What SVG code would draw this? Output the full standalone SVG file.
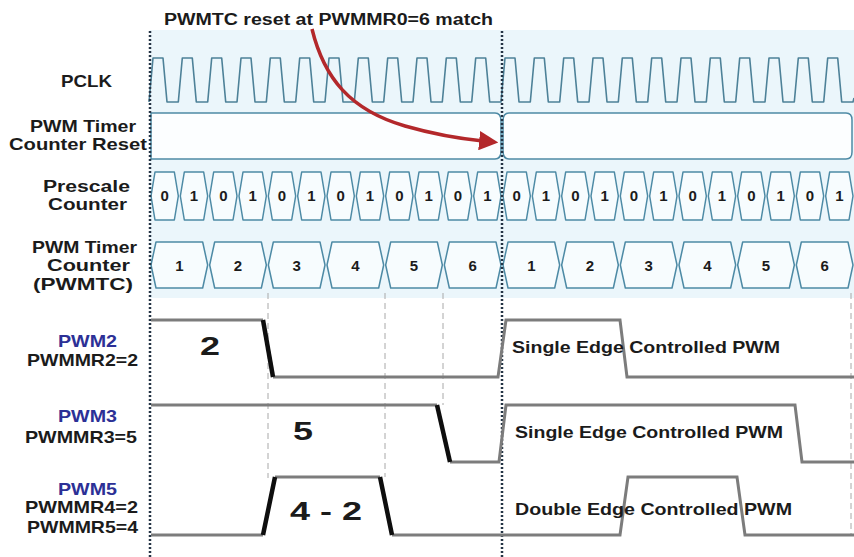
<svg xmlns="http://www.w3.org/2000/svg" width="854" height="557" viewBox="0 0 854 557">
<style>
.t{font-family:"Liberation Sans",Arial,sans-serif;font-weight:bold;fill:#1b1b1b}
.lb{font-size:17px}
.sm{font-size:16px}
.bl{fill:#2c3096}
.dg{font-size:15px;text-anchor:middle}
.big{font-size:26px}
.cell{fill:#f7fcfe;stroke:#4d8aa5;stroke-width:1.5;stroke-linejoin:round}
.clk{fill:none;stroke:#4d8198;stroke-width:1.6;stroke-linejoin:round}
.wave{fill:none;stroke:#7c7c7c;stroke-width:3}
.edge{fill:none;stroke:#0e0e0e;stroke-width:4.5}
.dash{stroke:#a8a8a8;stroke-width:1;stroke-dasharray:6,4;fill:none}
.dot{stroke:#243445;stroke-width:2.5;stroke-dasharray:2,2;fill:none}
</style>
<defs>
<polygon id="pc" class="cell" points="1,24 5,0 24.33,0 28.33,24 24.33,48 5,48"/>
<polygon id="tc" class="cell" points="1,23 6,0 52.67,0 57.67,23 52.67,46 6,46"/>
<marker id="ah" viewBox="0 0 10 10" refX="2" refY="5" markerWidth="5.5" markerHeight="5.5" orient="auto" markerUnits="strokeWidth">
<path d="M0,0 L10,5 L0,10 z" fill="#b3282b"/>
</marker>
</defs>
<rect x="0" y="0" width="854" height="557" fill="#ffffff"/>
<rect x="150" y="30" width="704" height="268" fill="#ebf6fb"/>

<text class="t" x="164" y="25" font-size="16" textLength="329" lengthAdjust="spacingAndGlyphs">PWMTC reset at PWMMR0=6 match</text>

<g id="pclk">
<text class="t lb" x="61" y="87" textLength="51" lengthAdjust="spacingAndGlyphs">PCLK</text>
<path class="clk" d="M149,102 L153,58 L163,58 L167,102 L178.3,102 L182.3,58 L192.3,58 L196.3,102 L207.7,102 L211.7,58 L221.7,58 L225.7,102 L237,102 L241,58 L251,58 L255,102 L266.3,102 L270.3,58 L280.3,58 L284.3,102 L295.7,102 L299.7,58 L309.7,58 L313.7,102 L325,102 L329,58 L339,58 L343,102 L354.3,102 L358.3,58 L368.3,58 L372.3,102 L383.7,102 L387.7,58 L397.7,58 L401.7,102 L413,102 L417,58 L427,58 L431,102 L442.3,102 L446.3,58 L456.3,58 L460.3,102 L471.7,102 L475.7,58 L485.7,58 L489.7,102 L501,102 L505,58 L515,58 L519,102 L530.3,102 L534.3,58 L544.3,58 L548.3,102 L559.7,102 L563.7,58 L573.7,58 L577.7,102 L589,102 L593,58 L603,58 L607,102 L618.3,102 L622.3,58 L632.3,58 L636.3,102 L647.7,102 L651.7,58 L661.7,58 L665.7,102 L677,102 L681,58 L691,58 L695,102 L706.3,102 L710.3,58 L720.3,58 L724.3,102 L735.7,102 L739.7,58 L749.7,58 L753.7,102 L765,102 L769,58 L779,58 L783,102 L794.3,102 L798.3,58 L808.3,58 L812.3,102 L823.7,102 L827.7,58 L837.7,58 L841.7,102 L853,102 L854,98"/>
</g>

<g id="reset">
<text class="t lb" x="30" y="132" textLength="106" lengthAdjust="spacingAndGlyphs">PWM Timer</text>
<text class="t lb" x="9" y="150" textLength="138" lengthAdjust="spacingAndGlyphs">Counter Reset</text>
<path class="cell" style="fill:#fcfeff" d="M151,113 H495 Q501,113 501,121 V151 Q501,159 495,159 H151 Z"/>
<path class="cell" style="fill:#fcfeff" d="M509,113 H846 Q852,113 852,120 V152 Q852,159 846,159 H509 Q503,159 503,151 V121 Q503,113 509,113 Z"/>
</g>

<g id="prescale">
<text class="t sm" x="43" y="192" textLength="87" lengthAdjust="spacingAndGlyphs">Prescale</text>
<text class="t sm" x="48" y="210" textLength="79" lengthAdjust="spacingAndGlyphs">Counter</text>
<use href="#pc" x="150" y="172"/><use href="#pc" x="179.33" y="172"/><use href="#pc" x="208.67" y="172"/><use href="#pc" x="238" y="172"/>
<use href="#pc" x="267.33" y="172"/><use href="#pc" x="296.67" y="172"/><use href="#pc" x="326" y="172"/><use href="#pc" x="355.33" y="172"/>
<use href="#pc" x="384.67" y="172"/><use href="#pc" x="414" y="172"/><use href="#pc" x="443.33" y="172"/><use href="#pc" x="472.67" y="172"/>
<use href="#pc" x="502" y="172"/><use href="#pc" x="531.33" y="172"/><use href="#pc" x="560.67" y="172"/><use href="#pc" x="590" y="172"/>
<use href="#pc" x="619.33" y="172"/><use href="#pc" x="648.67" y="172"/><use href="#pc" x="678" y="172"/><use href="#pc" x="707.33" y="172"/>
<use href="#pc" x="736.67" y="172"/><use href="#pc" x="766" y="172"/><use href="#pc" x="795.33" y="172"/><use href="#pc" x="824.67" y="172"/>
<g class="t dg">
<text x="164.7" y="201">0</text><text x="194" y="201">1</text><text x="223.3" y="201">0</text><text x="252.7" y="201">1</text>
<text x="282" y="201">0</text><text x="311.3" y="201">1</text><text x="340.7" y="201">0</text><text x="370" y="201">1</text>
<text x="399.3" y="201">0</text><text x="428.7" y="201">1</text><text x="458" y="201">0</text><text x="487.3" y="201">1</text>
<text x="516.7" y="201">0</text><text x="546" y="201">1</text><text x="575.3" y="201">0</text><text x="604.7" y="201">1</text>
<text x="634" y="201">0</text><text x="663.3" y="201">1</text><text x="692.7" y="201">0</text><text x="722" y="201">1</text>
<text x="751.3" y="201">0</text><text x="780.7" y="201">1</text><text x="810" y="201">0</text><text x="839.3" y="201">1</text>
</g>
</g>

<g id="pwmtc">
<text class="t lb" x="32" y="253" textLength="105" lengthAdjust="spacingAndGlyphs">PWM Timer</text>
<text class="t lb" x="47" y="271" textLength="83" lengthAdjust="spacingAndGlyphs">Counter</text>
<text class="t lb" x="33" y="290" textLength="100" lengthAdjust="spacingAndGlyphs">(PWMTC)</text>
<use href="#tc" x="150" y="242"/><use href="#tc" x="208.67" y="242"/><use href="#tc" x="267.33" y="242"/>
<use href="#tc" x="326" y="242"/><use href="#tc" x="384.67" y="242"/><use href="#tc" x="443.33" y="242"/>
<use href="#tc" x="502" y="242"/><use href="#tc" x="560.67" y="242"/><use href="#tc" x="619.33" y="242"/>
<use href="#tc" x="678" y="242"/><use href="#tc" x="736.67" y="242"/><use href="#tc" x="795.33" y="242"/>
<g class="t dg">
<text x="179.3" y="271">1</text><text x="238" y="271">2</text><text x="296.7" y="271">3</text>
<text x="355.3" y="271">4</text><text x="414" y="271">5</text><text x="472.7" y="271">6</text>
<text x="531.3" y="271">1</text><text x="590" y="271">2</text><text x="648.7" y="271">3</text>
<text x="707.3" y="271">4</text><text x="766" y="271">5</text><text x="824.7" y="271">6</text>
</g>
</g>

<g id="guides">
<path class="dash" d="M268,293 V478 M385,293 V477 M443,293 V405 M851,293 V535"/>
<path class="dot" d="M150,31 V557 M502,31 V557"/>
</g>

<g id="pwm2">
<text class="t lb bl" x="58" y="347" textLength="59" lengthAdjust="spacingAndGlyphs">PWM2</text>
<text class="t lb" x="27" y="366" textLength="111" lengthAdjust="spacingAndGlyphs">PWMMR2=2</text>
<path class="wave" d="M151,320 H263 M273,377 H498 L506,320 H620 L627,377 H854"/>
<path class="edge" d="M263,320 L273,377"/>
<text class="t big" x="200" y="355" textLength="20" lengthAdjust="spacingAndGlyphs">2</text>
<text class="t lb" x="512" y="353" textLength="268" lengthAdjust="spacingAndGlyphs">Single Edge Controlled PWM</text>
</g>

<g id="pwm3">
<text class="t lb bl" x="58" y="422" textLength="59" lengthAdjust="spacingAndGlyphs">PWM3</text>
<text class="t lb" x="25" y="443" textLength="112" lengthAdjust="spacingAndGlyphs">PWMMR3=5</text>
<path class="wave" d="M151,405 H437 M450,462 H499 L506,405 H795 L802,462 H854"/>
<path class="edge" d="M437,405 L450,462"/>
<text class="t big" x="293" y="440" textLength="20" lengthAdjust="spacingAndGlyphs">5</text>
<text class="t lb" x="515" y="438" textLength="268" lengthAdjust="spacingAndGlyphs">Single Edge Controlled PWM</text>
</g>

<g id="pwm5">
<text class="t lb bl" x="58" y="495" textLength="59" lengthAdjust="spacingAndGlyphs">PWM5</text>
<text class="t lb" x="25" y="513" textLength="113" lengthAdjust="spacingAndGlyphs">PWMMR4=2</text>
<text class="t lb" x="27" y="533" textLength="111" lengthAdjust="spacingAndGlyphs">PWMMR5=4</text>
<path class="wave" d="M151,535 H263 M275,477 H380 M392,535 H620 L628,477 H737 L745,535 H854"/>
<path class="edge" d="M263,535 L275,477 M380,477 L392,535"/>
<text class="t big" x="290" y="520" textLength="72" lengthAdjust="spacingAndGlyphs">4 - 2</text>
<text class="t lb" x="515" y="515" textLength="277" lengthAdjust="spacingAndGlyphs">Double Edge Controlled PWM</text>
</g>

<g id="connectors">
<path d="M312,29 C324,78 350,110 405,126 C440,136 463,139 483,141" fill="none" stroke="#b3282b" stroke-width="3.5" marker-end="url(#ah)"/>
</g>
</svg>
